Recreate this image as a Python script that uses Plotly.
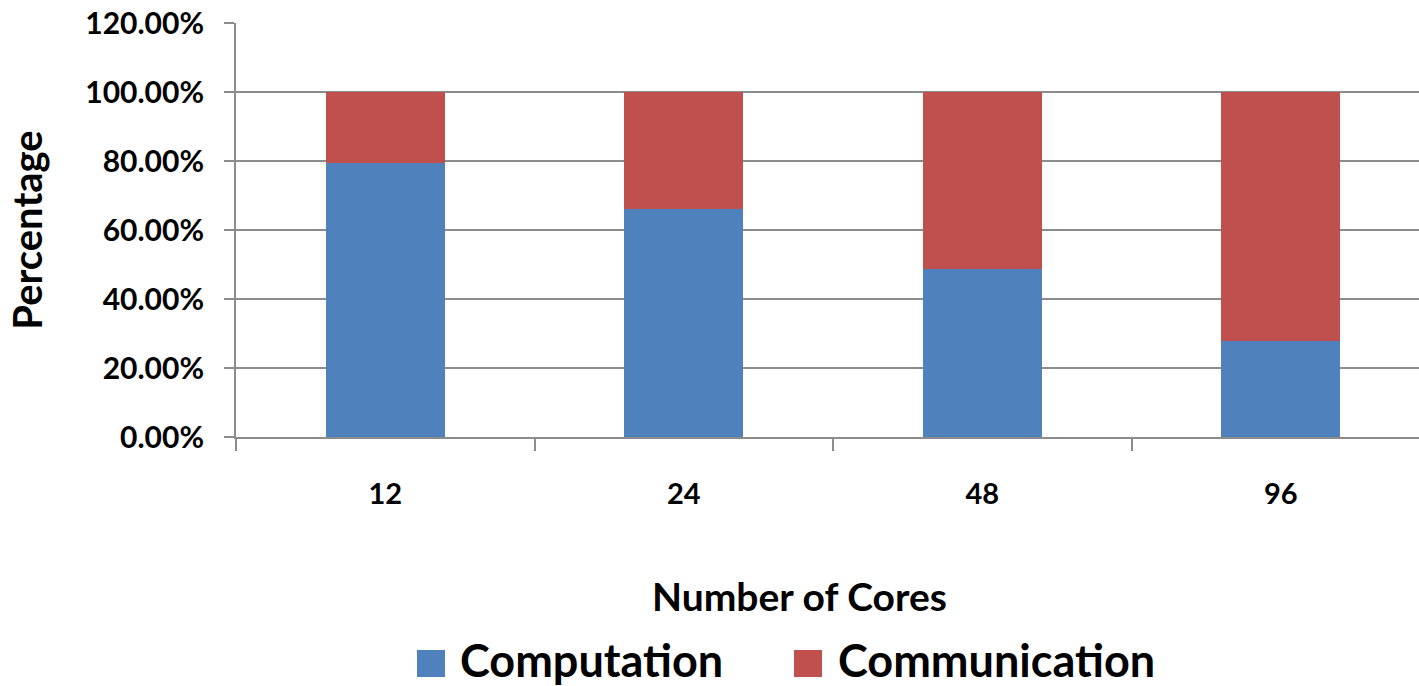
import plotly.graph_objects as go

# Share of run time by number of cores (percent)
cores = ["12", "24", "48", "96"]
computation = [79.3, 66.1, 48.7, 27.8]
communication = [20.7, 33.9, 51.3, 72.2]
series_names = ["Computation", "Communication"]
series_colors = ["#4F81BD", "#C0504D"]
y_ticks = [0, 20, 40, 60, 80, 100, 120]
y_tick_text = [f"{v:.2f}%" for v in y_ticks]

W, H = 1419, 686
L, R, T, B = 236, 0, 23, 249
FONT = "Lato"
GRID = "#8c8c8c"


def px_x(px):
    return (px - L) / (W - L - R)


def px_y(py):
    return (H - B - py) / (H - T - B)


fig = go.Figure()
for name, vals, color in zip(series_names, [computation, communication], series_colors):
    fig.add_trace(go.Bar(
        x=cores, y=vals, name=name,
        marker=dict(color=color, line=dict(width=0)),
        showlegend=False,
    ))

fig.update_layout(
    barmode="stack",
    bargap=0.6,
    width=W, height=H,
    margin=dict(l=L, r=R, t=T, b=B, pad=0),
    plot_bgcolor="white", paper_bgcolor="white",
    font=dict(family=FONT, color="black", weight="bold"),
)

fig.update_xaxes(
    type="category",
    range=[-0.5, 3.463],
    tickson="boundaries",
    ticks="outside", ticklen=12, tickwidth=2, tickcolor=GRID,
    showline=True, linecolor=GRID, linewidth=2,
    showgrid=False,
    tickfont=dict(size=29, family=FONT, weight="bold"),
    ticklabelstandoff=30,
)

fig.update_yaxes(
    range=[0, 120],
    tickvals=y_ticks,
    ticktext=y_tick_text,
    showgrid=True, gridcolor=GRID, gridwidth=2,
    zeroline=False,
    showline=True, linecolor=GRID, linewidth=2,
    ticks="outside", ticklen=10, tickwidth=2, tickcolor=GRID,
    tickfont=dict(size=30, family=FONT, weight="bold"),
    ticklabelstandoff=14,
    title=dict(text="Percentage", font=dict(size=40, family=FONT, weight="bold"), standoff=30),
)

annotations = [dict(
    xref="paper", yref="paper", x=px_x(799), y=px_y(596),
    xanchor="center", yanchor="middle", showarrow=False,
    text="Number of Cores", font=dict(size=39, family=FONT, weight="bold", color="black"),
)]

# Legend: large colour swatches with labels beneath the axis title
legend_items = [(417, 458), (794, 836)]
shapes = []
for (sq_x, txt_x), name, color in zip(legend_items, series_names, series_colors):
    shapes.append(dict(
        type="rect", xref="paper", yref="paper",
        x0=px_x(sq_x), x1=px_x(sq_x + 28), y0=px_y(677), y1=px_y(650),
        fillcolor=color, line=dict(width=0),
    ))
    annotations.append(dict(
        xref="paper", yref="paper", x=px_x(txt_x), y=px_y(660),
        xanchor="left", yanchor="middle", showarrow=False,
        text=name, font=dict(size=45, family=FONT, weight="bold", color="black"),
    ))
fig.update_layout(shapes=shapes, annotations=annotations)

fig.write_html("out.html")
